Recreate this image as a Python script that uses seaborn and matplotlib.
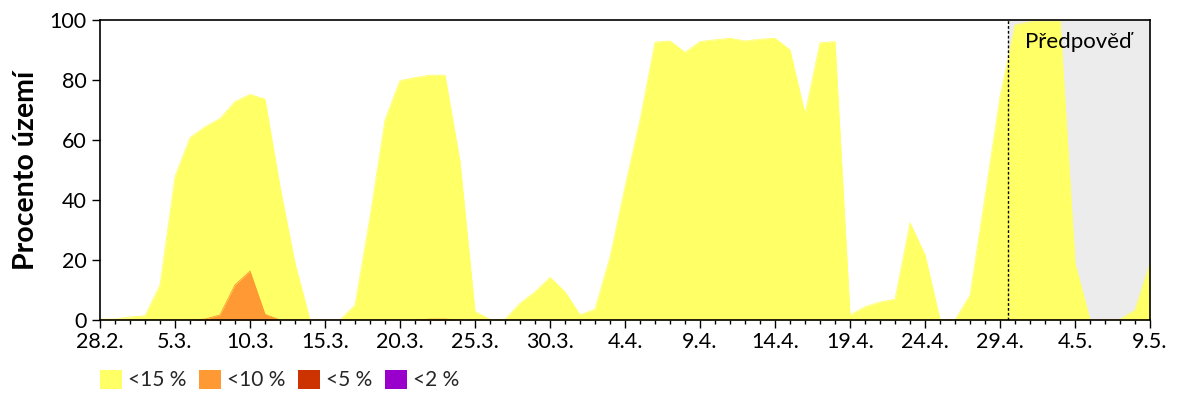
import numpy as np
import pandas as pd
import matplotlib
matplotlib.use('Agg')
import matplotlib.pyplot as plt
import matplotlib.ticker as mticker
from matplotlib.patches import Patch
import seaborn as sns

# daily values, 28.2. .. 9.5. (percent of territory)
start_date = "2019-02-28"
end_date = "2019-05-09"
forecast_start = "2019-04-29 13:00"

below_15 = [0.3, 0.3, 1.0, 1.4, 11.7, 47.8, 60.8, 64.4, 67.2, 72.8,
            75.2, 73.6, 44.4, 18.9, 0.0, 0.0, 0.0, 5.0, 34.4, 66.7,
            79.8, 80.8, 81.6, 81.6, 52.8, 2.8, 0.2, 0.2, 5.6, 9.4,
            14.2, 9.4, 1.7, 3.6, 21.0, 44.4, 66.7, 92.6, 93.0, 89.2,
            92.8, 93.4, 93.9, 93.0, 93.6, 93.9, 90.0, 68.7, 92.4, 92.8,
            1.7, 4.4, 6.0, 6.9, 32.4, 21.7, 0.2, 0.0, 8.3, 41.1,
            74.4, 98.3, 99.4, 99.7, 99.7, 18.9, 0.0, 0.0, 0.2, 3.3,
            18.9]
below_10 = [0.0] * 7 + [0.3, 1.7, 11.7, 16.3, 1.9] + [0.0] * 10 + [0.3, 0.3] + [0.0] * 47
below_5 = [0.0] * 71
below_2 = [0.0] * 71

series_labels = ["<15 %", "<10 %", "<5 %", "<2 %"]
series_colors = ["#ffff66", "#ff9933", "#cc3300", "#9900cc"]

dates = pd.date_range(start_date, end_date, freq="D")
df = pd.DataFrame({"date": dates, "<15 %": below_15, "<10 %": below_10,
                   "<5 %": below_5, "<2 %": below_2})

sns.set_theme(style="white")
plt.rcParams['font.family'] = ['Lato', 'DejaVu Sans']

fig = plt.figure(figsize=(12, 4), dpi=100)
ax = fig.add_axes([100 / 1200, 0.2, 1050 / 1200, 0.75])

# forecast region
fc = pd.Timestamp(forecast_start)
ax.axvspan(fc, dates[-1], color="#ececec", zorder=0, lw=0)
ax.axvline(fc, color="black", linestyle=(0, (2, 1.5)), lw=1, zorder=5)

for lab, col in zip(series_labels, series_colors):
    ax.fill_between(df["date"], 0, df[lab], color=col, lw=0, zorder=2)
    sns.lineplot(data=df, x="date", y=lab, ax=ax, color=col, lw=0.6, zorder=2)

ax.text(fc + pd.Timedelta(hours=27), 92.5, "Předpověď", fontsize=16,
        va="center", ha="left", color="black", zorder=6)

ax.set_xlim(dates[0], dates[-1])
ax.set_ylim(0, 100)
ax.yaxis.set_major_locator(mticker.MultipleLocator(20))
ax.xaxis.set_major_locator(mticker.FixedLocator(matplotlib.dates.date2num(dates[::5])))
ax.xaxis.set_minor_locator(mticker.FixedLocator(matplotlib.dates.date2num(dates)))
ax.xaxis.set_major_formatter(mticker.FuncFormatter(
    lambda v, p: f"{matplotlib.dates.num2date(v).day}.{matplotlib.dates.num2date(v).month}."))
ax.tick_params(axis="both", which="major", direction="out", length=6, width=1,
               color="black", labelsize=15.5, labelcolor="black", bottom=True, left=True)
ax.tick_params(axis="x", which="minor", direction="out", length=3, width=1,
               color="black", bottom=True)
ax.tick_params(axis="x", pad=3)
ax.set_xlabel("")
ax.set_ylabel("Procento území", fontsize=20.5, fontweight="bold", color="black", labelpad=8)
for sp in ax.spines.values():
    sp.set_color("black")
    sp.set_linewidth(1.2)
    sp.set_zorder(7)

handles = [Patch(facecolor=c, edgecolor="none", label=l) for l, c in zip(series_labels, series_colors)]
fig.legend(handles=handles, loc="center left", bbox_to_anchor=(81 / 1200, 0.05), ncol=4,
           frameon=False, fontsize=15, handlelength=1.05, handleheight=1.05,
           handletextpad=0.3, columnspacing=0.6)

fig.savefig("out.png", dpi=100)
